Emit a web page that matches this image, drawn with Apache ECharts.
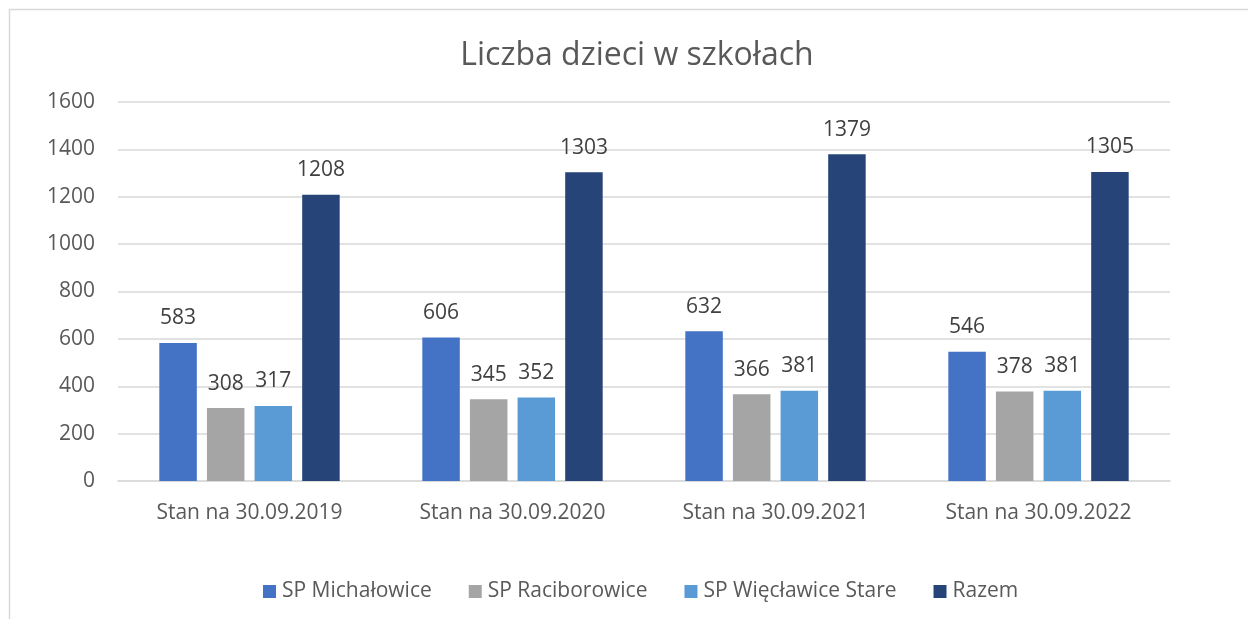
<!DOCTYPE html>
<html>
<head>
<meta charset="utf-8">
<script src="https://cdn.jsdelivr.net/npm/echarts@6/dist/echarts.min.js"></script>
<style>
  html, body { margin: 0; padding: 0; background: #fff; }
  #chart { width: 1248px; height: 619px; }
</style>
</head>
<body>
<div id="chart"></div>
<script>
// dane z wykresu
const categories = ['Stan na 30.09.2019', 'Stan na 30.09.2020', 'Stan na 30.09.2021', 'Stan na 30.09.2022']
const seriesNames = ['SP Michałowice', 'SP Raciborowice', 'SP Więcławice Stare', 'Razem']
const michalowice = [583, 606, 632, 546]
const raciborowice = [308, 345, 366, 378]
const wieclawice = [317, 352, 381, 381]
const razem = [1208, 1303, 1379, 1305]
const colors = ['#4472C4', '#A5A5A5', '#5B9BD5', '#264478']

const font = 'Open Sans'
const seriesData = [michalowice, raciborowice, wieclawice, razem]

let chart = echarts.init(document.getElementById('chart'))
let option = {
  animation: false,
  textStyle: { fontFamily: font },
  title: {
    text: 'Liczba dzieci w szkołach',
    left: 632,
    top: 35,
    textAlign: 'center',
    textStyle: { fontFamily: font, fontSize: 32, fontWeight: 'normal', color: '#595959' }
  },
  graphic: [{
    type: 'rect',
    shape: { x: 9.5, y: 9.5, width: 1260, height: 640 },
    style: { fill: 'none', stroke: '#D9D9D9', lineWidth: 1.5 },
    silent: true
  }],
  legend: {
    data: seriesNames,
    left: 258,
    top: 576,
    icon: 'rect',
    itemWidth: 13,
    itemHeight: 13,
    itemGap: 37,
    textStyle: { fontFamily: font, fontSize: 21, color: '#595959', padding: [0, 0, 0, 1] }
  },
  grid: { left: 118, right: 78, top: 102, bottom: 138 },
  xAxis: {
    type: 'category',
    data: categories,
    axisTick: { show: false },
    axisLine: { lineStyle: { color: '#D9D9D9', width: 1.5 } },
    axisLabel: { fontFamily: font, fontSize: 21, color: '#595959', margin: 22 }
  },
  yAxis: {
    type: 'value',
    min: 0,
    max: 1600,
    interval: 200,
    axisLine: { show: false },
    axisTick: { show: false },
    splitLine: { lineStyle: { color: '#D9D9D9', width: 1.5 } },
    axisLabel: { fontFamily: font, fontSize: 21, color: '#595959', margin: 23, formatter: v => String(v) }
  },
  series: seriesNames.map((name, i) => ({
    name: name,
    type: 'bar',
    data: seriesData[i],
    barWidth: 37.5,
    barGap: '27%',
    itemStyle: { color: colors[i] },
    label: {
      show: true,
      position: 'top',
      distance: 14,
      fontFamily: font,
      fontSize: 21,
      color: '#404040'
    }
  }))
}
chart.setOption(option)
</script>
</body>
</html>
